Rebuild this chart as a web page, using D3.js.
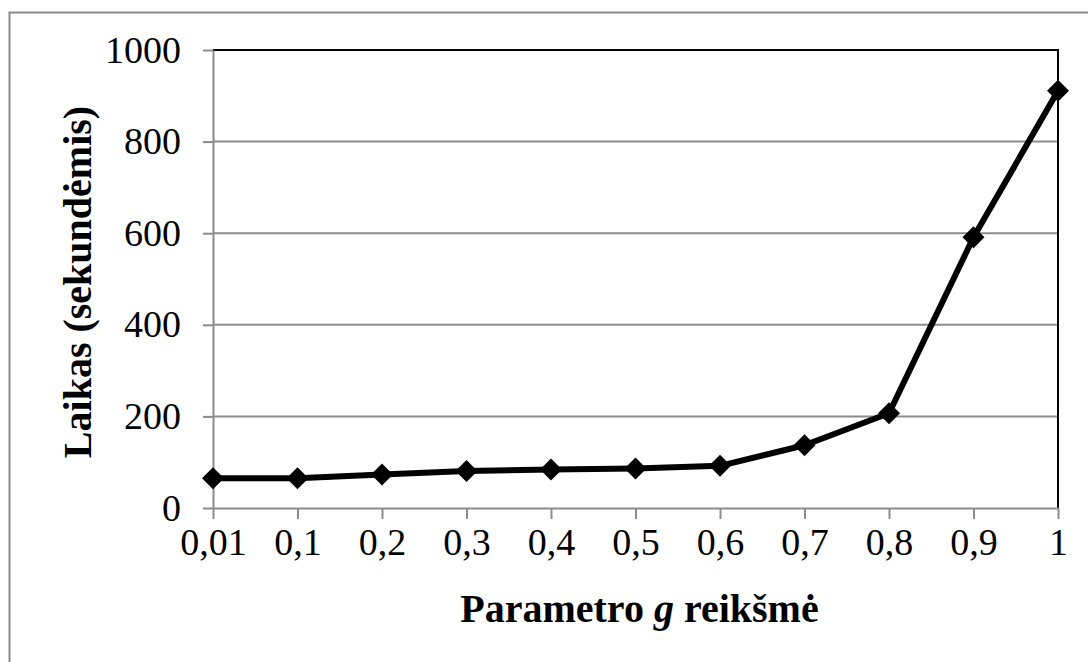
<!DOCTYPE html>
<html><head><meta charset="utf-8">
<script src="https://cdn.jsdelivr.net/npm/d3@7/dist/d3.min.js"></script>
<style>html,body{margin:0;padding:0;background:#fff;}svg{display:block;}</style>
</head><body>
<svg id="c" width="1088" height="662"></svg>
<script>
const categories = ["0,01","0,1","0,2","0,3","0,4","0,5","0,6","0,7","0,8","0,9","1"];
const values = [65, 65, 73, 81, 84, 86, 92, 137, 207, 591, 911];
const yTicks = [0, 200, 400, 600, 800, 1000];
const xTitle = ["Parametro ", "g", " reikšmė"];
const yTitle = "Laikas (sekundėmis)";

const svg = d3.select("#c");
const font = "'Liberation Serif','Times New Roman',serif";
const L = 213, R = 1058, T = 50, B = 508;
const x = d3.scalePoint().domain(categories).range([L, R]);
const y = d3.scaleLinear().domain([0, 1000]).range([B, T]);
const gray = "#8c8c8c";

svg.append("rect").attr("x", 9.5).attr("y", 12.5).attr("width", 1100).attr("height", 700)
  .attr("fill", "#fff").attr("stroke", gray).attr("stroke-width", 2);

// gridlines
svg.append("g").selectAll("line").data(yTicks.filter(d => d > 0 && d < 1000)).join("line")
  .attr("x1", L).attr("x2", R).attr("y1", d => y(d)).attr("y2", d => y(d))
  .attr("stroke", gray).attr("stroke-width", 2);

// plot border top/right black
svg.append("path").attr("d", `M${L},${y(1000)}H${R}V${B}`).attr("fill", "none")
  .attr("stroke", "#000").attr("stroke-width", 2);

// y axis
const yAxis = svg.append("g").attr("transform", `translate(${L},0)`)
  .call(d3.axisLeft(y).tickValues(yTicks).tickFormat(d3.format("d")).tickSize(10).tickPadding(22).tickSizeOuter(0));
yAxis.select(".domain").attr("stroke", gray).attr("stroke-width", 2);
yAxis.selectAll(".tick line").attr("stroke", gray).attr("stroke-width", 2);
yAxis.selectAll("text").attr("font-family", font).attr("font-size", 38).attr("fill", "#000");

// x axis
const xAxis = svg.append("g").attr("transform", `translate(0,${B})`)
  .call(d3.axisBottom(x).tickSize(11).tickPadding(9).tickSizeOuter(0));
xAxis.select(".domain").attr("stroke", gray).attr("stroke-width", 2);
xAxis.selectAll(".tick line").attr("stroke", gray).attr("stroke-width", 2);
xAxis.selectAll("text").attr("font-family", font).attr("font-size", 38).attr("fill", "#000");

// line
const data = categories.map((c, i) => ({c, v: values[i]}));
svg.append("path").datum(data)
  .attr("d", d3.line().x(d => x(d.c)).y(d => y(d.v)))
  .attr("fill", "none").attr("stroke", "#000").attr("stroke-width", 6).attr("stroke-linejoin", "round");

svg.append("g").selectAll("path").data(data).join("path")
  .attr("transform", d => `translate(${x(d.c)},${y(d.v)})`)
  .attr("d", "M0,-11L11,0L0,11L-11,0Z").attr("fill", "#000");

// titles
const xt = svg.append("text").attr("x", (L + R) / 2 + 4).attr("y", 622)
  .attr("text-anchor", "middle").attr("font-family", font).attr("font-size", 40)
  .attr("font-weight", "bold").attr("fill", "#000");
xt.append("tspan").text(xTitle[0]);
xt.append("tspan").attr("font-style", "italic").text(xTitle[1]);
xt.append("tspan").text(xTitle[2]);

svg.append("text").attr("transform", `translate(91,${(T + B) / 2 + 3}) rotate(-90)`)
  .attr("text-anchor", "middle").attr("font-family", font).attr("font-size", 40)
  .attr("font-weight", "bold").attr("fill", "#000").text(yTitle);
</script>
</body></html>
